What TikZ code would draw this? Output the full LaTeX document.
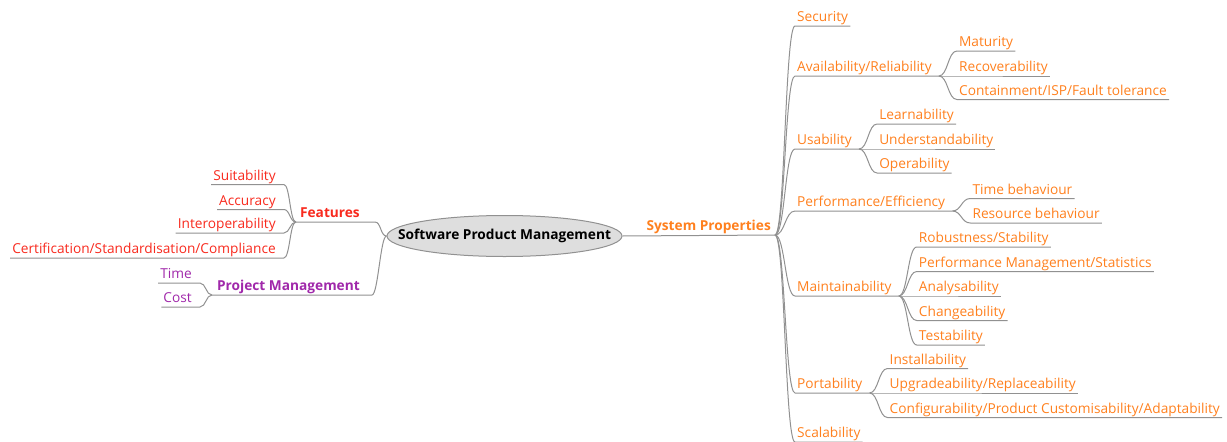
\documentclass[tikz,border=0pt]{standalone}
\usepackage{fontspec}
\setmainfont{Open Sans}
\usetikzlibrary{shapes.geometric}
\definecolor{orng}{RGB}{255,128,30}
\definecolor{rd}{RGB}{248,42,30}
\definecolor{prp}{RGB}{160,40,170}
\definecolor{lnk}{RGB}{145,145,145}
\definecolor{ovalfill}{RGB}{222,222,222}
\begin{document}
\begin{tikzpicture}[x=1pt,y=-1pt,
  lab/.style={font=\fontsize{13.7}{16}\selectfont, inner xsep=2pt, inner ysep=0pt, text height=10pt, text depth=4pt},
  blab/.style={lab, font=\fontsize{13.7}{16}\selectfont\bfseries},
  leafR/.style={lab, anchor=south west, text=orng},
  leafL/.style={lab, anchor=south east},
  link/.style={draw=lnk, line width=1pt},
  rootnode/.style={ellipse, draw=lnk, line width=1pt, fill=ovalfill, minimum width=235pt, minimum height=41pt, inner sep=0pt},
  roottext/.style={inner sep=0pt, font=\fontsize{13.7}{16}\selectfont\bfseries}
]
\useasboundingbox (0,0) rectangle (1227,442);

% root
\node[rootnode] (root) at (504.5,236) {};
\node[roottext] (roottxt) at (root.center) {Software Product Management};

% ---------- right side ----------
\coordinate (SPJ) at (775,235);
\node[blab, anchor=south east, text=orng] (sp) at (773,235) {System Properties};
\draw[link] (root.east) -- (SPJ);

\node[leafR] (sec)  at (795,26)  {Security};
\node[leafR] (avl)  at (795,76)  {Availability/Reliability};
\node[leafR] (usa)  at (795,149) {Usability};
\node[leafR] (perf) at (795,211) {Performance/Efficiency};
\node[leafR] (mnt)  at (795,296) {Maintainability};
\node[leafR] (port) at (795,393) {Portability};
\node[leafR] (scal) at (795,442) {Scalability};

\foreach \n in {sec,scal}
  \draw[link] (SPJ) .. controls +(10,0) and +(-10,0) .. (\n.south west) -- (\n.south east);

\foreach \n/\j in {avl/jA,usa/jU,perf/jP,mnt/jM,port/jR}{
  \coordinate (\j) at ([xshift=5pt]\n.south east);
  \draw[link] (SPJ) .. controls +(10,0) and +(-10,0) .. (\n.south west) -- (\j);
}

% Availability children
\node[leafR] (mat) at ([xshift=18pt,yshift=25pt]jA) {Maturity};
\node[leafR] (rec) at ([xshift=18pt]jA) {Recoverability};
\node[leafR] (con) at ([xshift=18pt,yshift=-23.5pt]jA) {Containment/ISP/Fault tolerance};
% Usability children
\node[leafR] (lea) at ([xshift=18pt,yshift=25pt]jU) {Learnability};
\node[leafR] (und) at ([xshift=18pt]jU) {Understandability};
\node[leafR] (ope) at ([xshift=18pt,yshift=-24pt]jU) {Operability};
% Performance children
\node[leafR] (tim) at ([xshift=18pt,yshift=12.5pt]jP) {Time behaviour};
\node[leafR] (res) at ([xshift=18pt,yshift=-12pt]jP) {Resource behaviour};
% Maintainability children
\node[leafR] (rob) at ([xshift=18pt,yshift=49pt]jM) {Robustness/Stability};
\node[leafR] (pms) at ([xshift=18pt,yshift=24.5pt]jM) {Performance Management/Statistics};
\node[leafR] (ana) at ([xshift=18pt]jM) {Analysability};
\node[leafR] (cha) at ([xshift=18pt,yshift=-24.5pt]jM) {Changeability};
\node[leafR] (tes) at ([xshift=18pt,yshift=-49pt]jM) {Testability};
% Portability children
\node[leafR] (ins) at ([xshift=18pt,yshift=24.5pt]jR) {Installability};
\node[leafR] (upg) at ([xshift=18pt]jR) {Upgradeability/Replaceability};
\node[leafR] (cfg) at ([xshift=18pt,yshift=-24.5pt]jR) {Configurability/Product Customisability/Adaptability};

\foreach \j/\n in {jA/mat,jA/rec,jA/con,jU/lea,jU/und,jU/ope,jP/tim,jP/res,
                   jM/rob,jM/pms,jM/ana,jM/cha,jM/tes,jR/ins,jR/upg,jR/cfg}
  \draw[link] (\j) .. controls +(9,0) and +(-9,0) .. (\n.south west) -- (\n.south east);

% ---------- left side ----------
\node[blab, anchor=south east, text=rd]  (feat) at (362,222) {Features};
\node[blab, anchor=south east, text=prp] (pm)   at (362,295) {Project Management};
\coordinate (FJ) at ([xshift=-2pt]feat.south west);
\coordinate (PJ) at ([xshift=-3pt]pm.south west);
\draw[link] (root.west) .. controls +(-6,0) and +(6,0) .. ([xshift=13pt]feat.south east) -- (FJ);
\draw[link] (root.west) .. controls +(-6,0) and +(6,0) .. ([xshift=10pt]pm.south east) -- (PJ);

\node[leafL, text=rd] (sui) at ([xshift=-18pt,yshift=37.5pt]FJ) {Suitability};
\node[leafL, text=rd] (acc) at ([xshift=-18pt,yshift=12.5pt]FJ) {Accuracy};
\node[leafL, text=rd] (int) at ([xshift=-18pt,yshift=-11pt]FJ) {Interoperability};
\node[leafL, text=rd] (cer) at ([xshift=-18pt,yshift=-36pt]FJ) {Certification/Standardisation/Compliance};
\node[leafL, text=prp] (tme) at ([xshift=-18pt,yshift=12pt]PJ) {Time};
\node[leafL, text=prp] (cst) at ([xshift=-18pt,yshift=-12pt]PJ) {Cost};

\foreach \j/\n in {FJ/sui,FJ/acc,FJ/int,FJ/cer,PJ/tme,PJ/cst}
  \draw[link] (\j) .. controls +(-6,0) and +(6,0) .. ([xshift=6pt]\n.south east) -- (\n.south west);
\end{tikzpicture}
\end{document}
